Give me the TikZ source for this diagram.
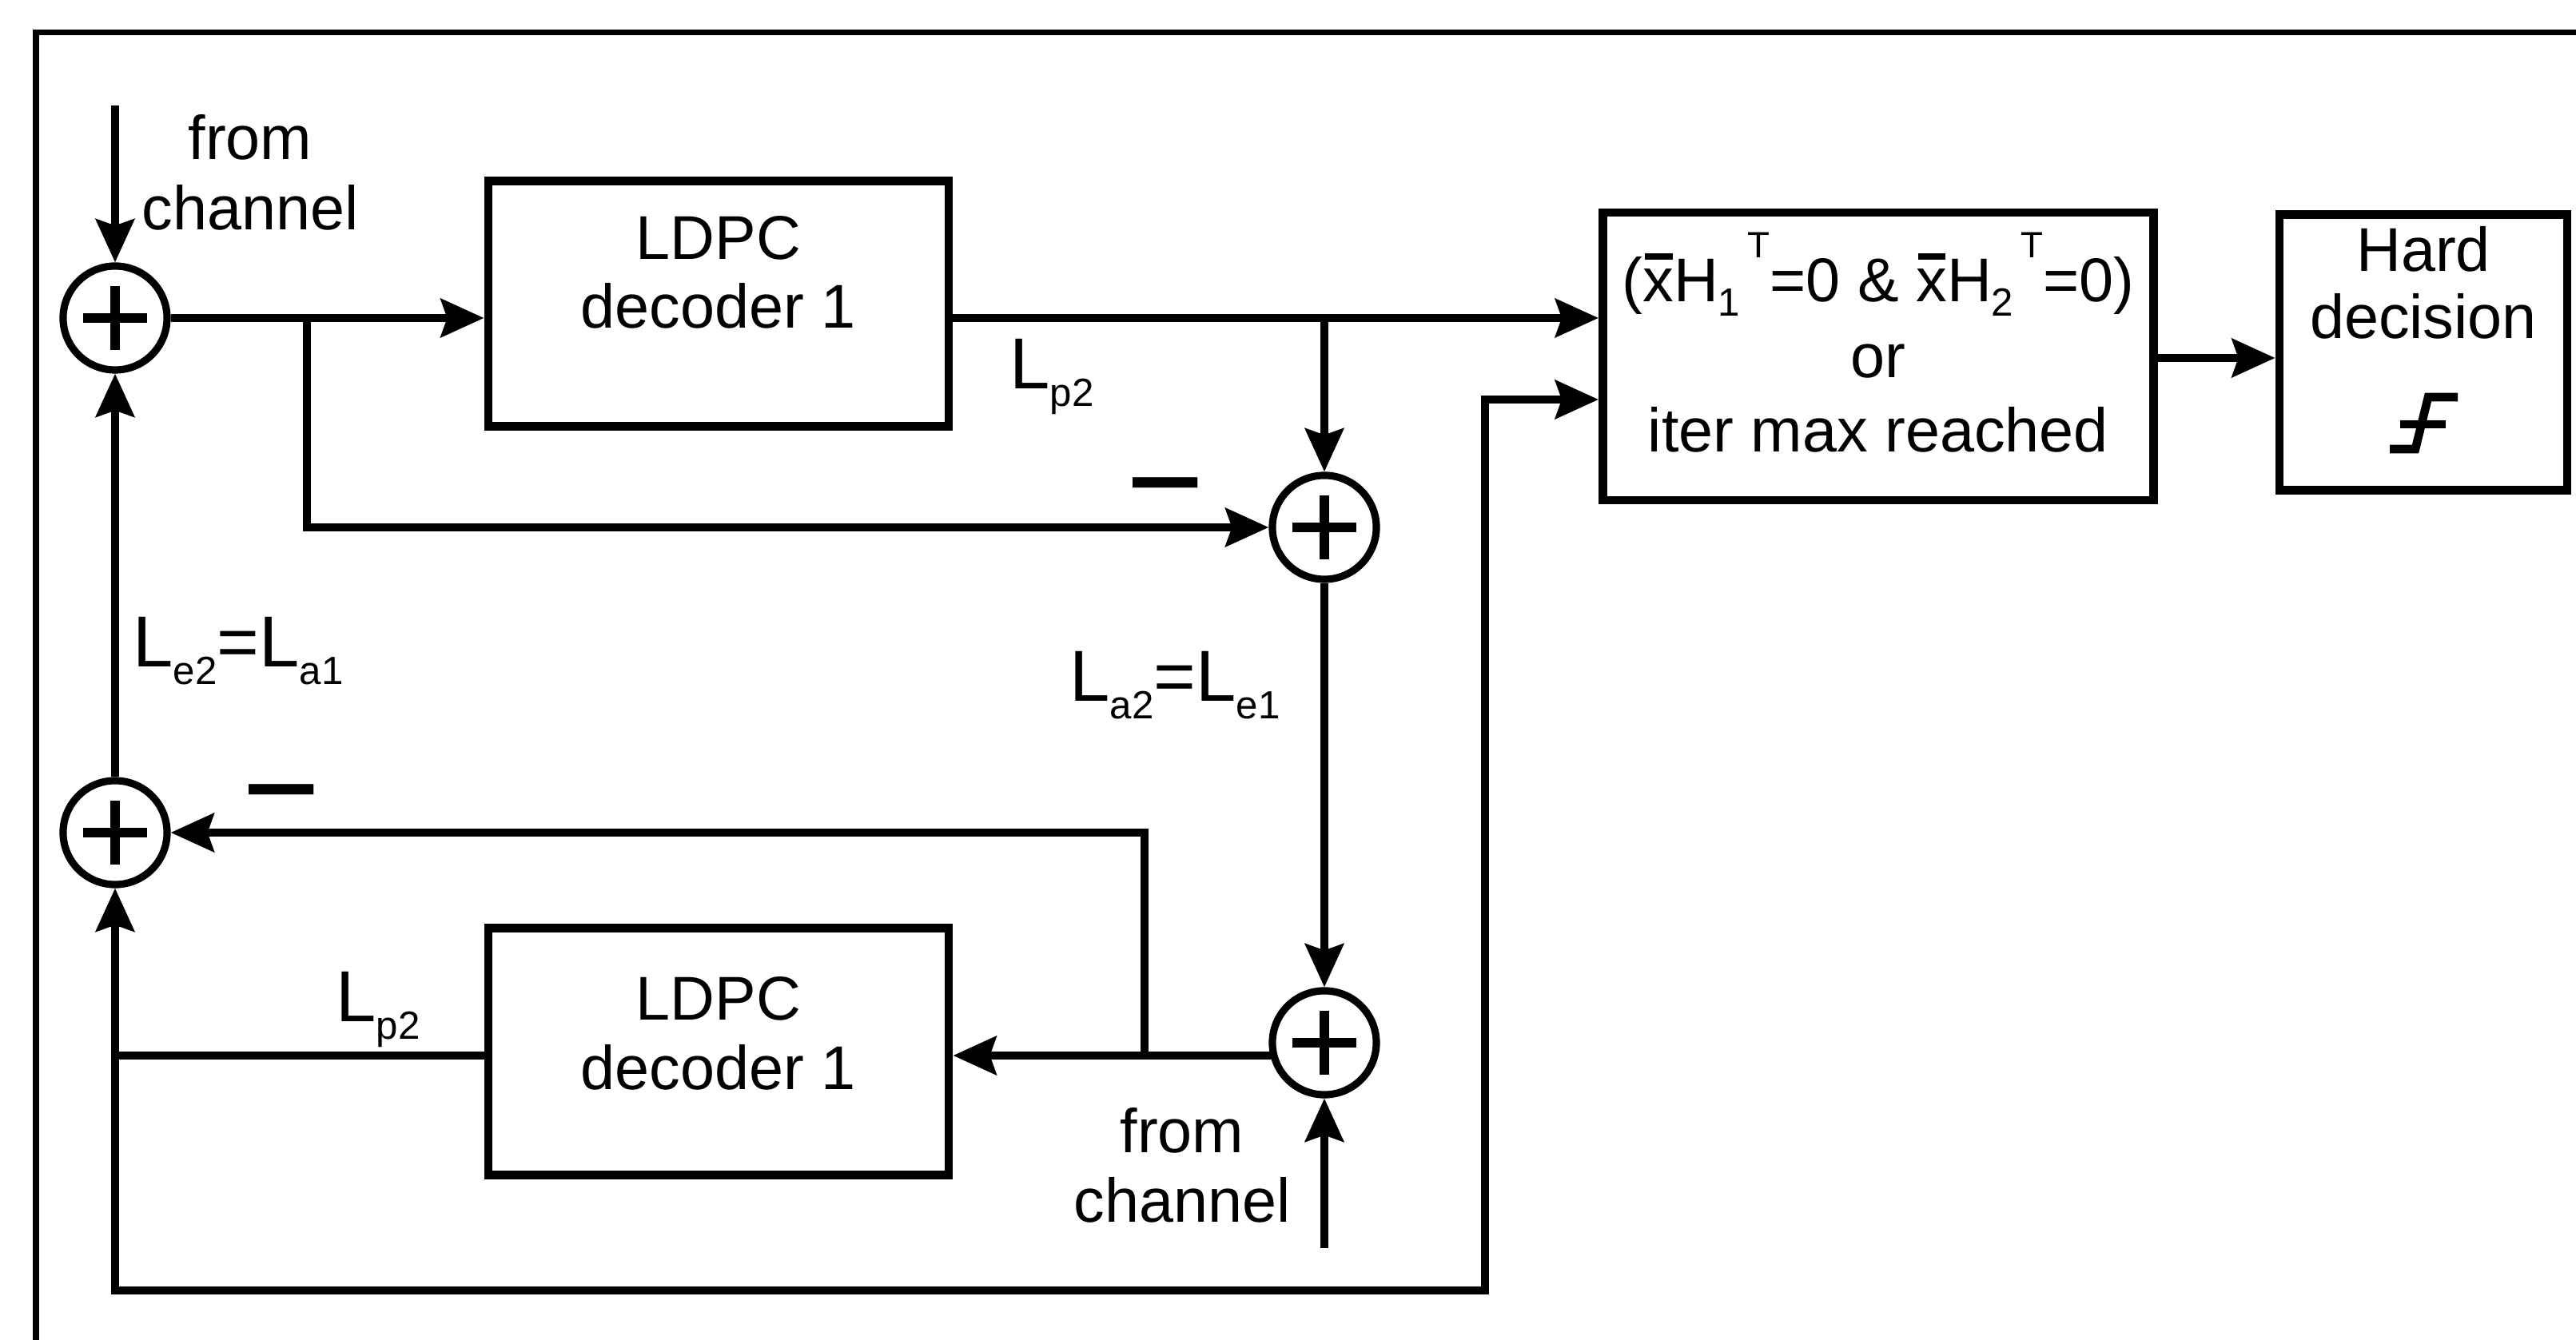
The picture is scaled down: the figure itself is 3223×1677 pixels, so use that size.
\documentclass[tikz,border=0pt]{standalone}
\usepackage{fontspec}
\setmainfont{Liberation Sans}
\usetikzlibrary{arrows.meta,calc}
\newcommand{\Lsub}[1]{{\fontsize{25.7}{30}\selectfont L\raisebox{-6pt}{\fontsize{14}{14}\selectfont #1}}}
\newcommand{\xbar}{\leavevmode\rlap{\hspace{0.03em}\raisebox{0.68em}{\rule{0.45em}{0.11em}}}x}
\newcommand{\HsubT}[1]{H\raisebox{-5pt}{\fontsize{14}{14}\selectfont #1}\hspace{0.12em}\raisebox{0.72em}{\fontsize{13}{13}\selectfont T}}
\tikzset{
  conn/.style={line width=2.8pt},
  arr/.style={conn,-{Stealth[length=0.54cm,width=0.48cm,inset=0.08cm]}},
  block/.style={draw,line width=3pt,inner sep=0pt},
  sumnode/.style={circle,draw,line width=2.6pt,minimum size=1.3cm,inner sep=0pt,
    path picture={
      \draw[line width=3.6pt] ([xshift=-0.4cm]path picture bounding box.center) -- ([xshift=0.4cm]path picture bounding box.center);
      \draw[line width=3.6pt] ([yshift=-0.4cm]path picture bounding box.center) -- ([yshift=0.4cm]path picture bounding box.center);
    }},
  txt/.style={inner sep=0pt,font=\fontsize{22}{25}\selectfont},
  lab/.style={inner sep=0pt,anchor=base west},
  minus/.style={inner sep=0pt,anchor=base,font=\fontsize{22}{22}\selectfont\bfseries},
}
\begin{document}
\begin{tikzpicture}[x=0.01cm,y=-0.01cm]
\useasboundingbox (0,0) rectangle (3223,1677);
% outer frame
\draw[line width=2pt] (45,1677) -- (45,41) -- (3223,41);

% sum nodes
\node[sumnode] (s1) at (144,398) {};
\node[sumnode] (s2) at (1657,660) {};
\node[sumnode] (s3) at (1657,1305) {};
\node[sumnode] (s4) at (144,1042) {};

% blocks
\node[block,minimum width=5.76cm,minimum height=3.07cm] (d1) at (899,380) {};
\node[block,minimum width=5.76cm,minimum height=3.09cm] (d2) at (899,1316) {};
\node[block,minimum width=6.89cm,minimum height=3.6cm] (cond) at (2350,446) {};
\node[block,minimum width=3.6cm,minimum height=3.45cm] (hard) at (3032,441) {};

% block texts
\node[txt,anchor=base] (d1a) at (899,325) {LDPC};
\node[txt,anchor=base] (d1b) at (899,411) {decoder 1};
\node[txt,anchor=base] (d2a) at (899,1277) {LDPC};
\node[txt,anchor=base] (d2b) at (899,1364) {decoder 1};
\node[txt,anchor=base] (c1t) at (2350,378) {(\xbar\HsubT{1}=0 \& \xbar\HsubT{2}=0)};
\node[txt,anchor=base] (c2t) at (2350,473) {or};
\node[txt,anchor=base] (c3t) at (2350,566) {iter max reached};
\node[txt,anchor=base] (h1t) at (3032,340) {Hard};
\node[txt,anchor=base] (h2t) at (3032,424) {decision};
% hard limiter symbol
\draw[line width=3pt] (2990,562) -- (3022,562) -- (3038,497) -- (3075,497);
\draw[line width=3pt] (3003,531) -- (3060,531);

% from channel texts
\node[txt,anchor=base] (fc1a) at (313,200) {from};
\node[txt,anchor=base] (fc1b) at (313,288) {channel};
\node[txt,anchor=base] (fc2a) at (1479,1443) {from};
\node[txt,anchor=base] (fc2b) at (1479,1530) {channel};

% labels
\node[lab] (lp2a) at (1263,487) {\Lsub{p2}};
\node[lab] (la2) at (1338,878) {\Lsub{a2}{\fontsize{25.7}{30}\selectfont=}\Lsub{e1}};
\node[lab] (le2) at (166,835) {\Lsub{e2}{\fontsize{25.7}{30}\selectfont=}\Lsub{a1}};
\node[lab] (lp2b) at (420,1279) {\Lsub{p2}};
\node[minus] (m1) at (1458,640) {\scalebox{1.05}[1.7]{—}};
\node[minus] (m2) at (352,1024) {\scalebox{1.05}[1.7]{—}};

% coordinates
\coordinate (in1) at (144,132);
\coordinate (in2) at (1657,1562);
\coordinate (b1) at ($(s1.center)+(240,0)$);
\coordinate (s3o) at ($(s3.center)+(-66,16)$);
\coordinate (b3) at ($(s3o)+(-159,0)$);
\coordinate (c1) at (s4 |- s3o);
\coordinate (c2) at (144,1615);
\coordinate (c3) at (1858,1615);
\coordinate (cin2) at ($(cond.west)+(0,54)$);

% connectors
\draw[arr] (in1) -- (s1.north);
\draw[arr] (s1.east) -- (s1.east -| d1.west);
\draw[arr] (b1) |- (s2.west);
\draw[arr] (d1.east |- s1) -- (cond.west |- s1);
\draw[arr] (s2 |- s1) -- (s2.north);
\draw[arr] (s2.south) -- (s3.north);
\draw[arr] (in2) -- (s3.south);
\draw[arr] (s3o) -- (s3o -| d2.east);
\draw[arr] (b3) |- (s4.east);
\draw[arr] (d2.west |- s3o) -| (s4.south);
\draw[arr] (c1) -- (c2) -- (c3) |- (cin2);
\draw[arr] (s4.north) -- (s1.south);
\draw[arr] ($(cond.east)+(0,2)$) -- ($(cond.east -| hard.west)+(0,2)$);
\end{tikzpicture}
\end{document}
